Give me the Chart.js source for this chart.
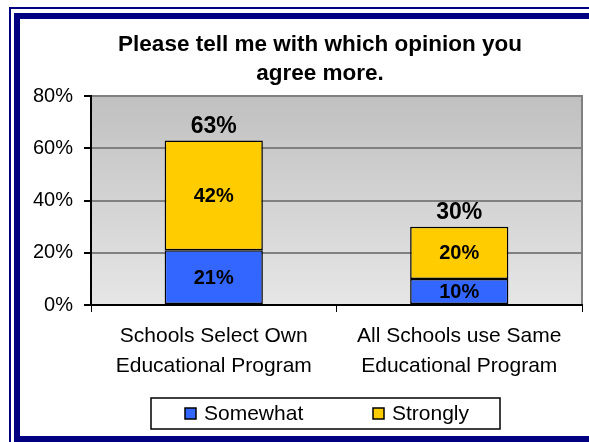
<!DOCTYPE html>
<html>
<head>
<meta charset="utf-8">
<script src="https://cdn.jsdelivr.net/npm/chart.js@4/dist/chart.umd.min.js"></script>
<style>
  body { margin: 0; background: #fff; }
  #wrap { width: 589px; height: 442px; position: relative; }
</style>
</head>
<body>
<div id="wrap"><canvas id="c"></canvas></div>
<script>
// values
const categories = [['Schools Select Own', 'Educational Program'], ['All Schools use Same', 'Educational Program']];
const somewhat = [21, 10];
const strongly = [42, 20];
const totals = [63, 30];
const titleLines = ['Please tell me with which opinion you', 'agree more.'];
const seriesNames = ['Somewhat', 'Strongly'];
const seriesColors = ['#3366FF', '#FFCC00'];

const FONT = "'Liberation Sans', Arial, sans-serif";

// gradient plot background + gray plot border
const plotBg = {
    id: 'plotBg',
    beforeDraw(chart) {
        const { ctx, chartArea: a } = chart;
        const g = ctx.createLinearGradient(0, a.top, 0, a.bottom);
        g.addColorStop(0, '#C0C0C0');
        g.addColorStop(1, '#E6E6E6');
        ctx.save();
        ctx.fillStyle = g;
        ctx.fillRect(a.left, a.top, a.right - a.left, a.bottom - a.top);
        ctx.strokeStyle = '#808080';
        ctx.lineWidth = 2;
        ctx.strokeRect(a.left, a.top, a.right - a.left, a.bottom - a.top);
        ctx.restore();
    }
};

// frame, title, value labels, legend box
const extras = {
    id: 'extras',
    afterDatasetsDraw(chart) {
        const ctx = chart.ctx;
        ctx.save();
        ctx.fillStyle = '#000';
        ctx.textAlign = 'center';
        ctx.textBaseline = 'middle';
        ctx.font = 'bold 20px ' + FONT;
        chart.data.datasets.forEach((ds, di) => {
            chart.getDatasetMeta(di).data.forEach((bar, i) => {
                ctx.fillText(ds.data[i] + '%', bar.x, (bar.y + bar.base) / 2 + 1);
            });
        });
        const top = chart.getDatasetMeta(chart.data.datasets.length - 1).data;
        ctx.font = 'bold 23px ' + FONT;
        top.forEach((bar, i) => ctx.fillText(totals[i] + '%', bar.x, bar.y - 14));
        ctx.restore();
    },
    afterDraw(chart) {
        const ctx = chart.ctx;
        ctx.save();
        // double navy frame
        ctx.strokeStyle = '#000080';
        ctx.lineWidth = 2;
        ctx.strokeRect(10, 8, 700, 600);
        ctx.lineWidth = 6;
        ctx.strokeRect(17, 16, 700, 423);
        // title
        ctx.fillStyle = '#000';
        ctx.textAlign = 'center';
        ctx.textBaseline = 'middle';
        ctx.font = 'bold 22.5px ' + FONT;
        titleLines.forEach((t, i) => ctx.fillText(t, 320, 45 + i * 29));
        // legend
        ctx.fillStyle = '#fff';
        ctx.fillRect(151, 398, 349, 31);
        ctx.strokeStyle = '#000';
        ctx.lineWidth = 1.5;
        ctx.strokeRect(151, 398, 349, 31);
        const xs = [185, 373];
        ctx.textAlign = 'left';
        ctx.font = '21px ' + FONT;
        seriesNames.forEach((n, i) => {
            ctx.fillStyle = seriesColors[i];
            ctx.fillRect(xs[i], 408, 11, 11);
            ctx.lineWidth = 1.5;
            ctx.strokeRect(xs[i], 408, 11, 11);
            ctx.fillStyle = '#000';
            ctx.fillText(n, xs[i] + 19, 414);
        });
        ctx.restore();
    }
};

new Chart(document.getElementById('c'), {
    type: 'bar',
    data: {
        labels: categories,
        datasets: [
            { label: seriesNames[0], data: somewhat, backgroundColor: seriesColors[0] },
            { label: seriesNames[1], data: strongly, backgroundColor: seriesColors[1] },
        ].map(d => Object.assign(d, { borderColor: '#000', borderWidth: 1.5, borderSkipped: false, barPercentage: 0.4, categoryPercentage: 1 }))
    },
    options: {
        responsive: true,
        maintainAspectRatio: false,
        animation: false,
        layout: { padding: { left: 0, right: 7, top: 96, bottom: 0 } },
        plugins: { legend: { display: false }, title: { display: false }, tooltip: { enabled: false } },
        scales: {
            x: {
                stacked: true,
                afterFit: s => { s.height = 137; },
                grid: { display: true, drawOnChartArea: false, tickLength: 7, tickColor: '#000', offset: true },
                border: { color: '#000', width: 2 },
                ticks: { color: '#000', padding: 9, font: { family: FONT, size: 21, lineHeight: 1.43 } }
            },
            y: {
                stacked: true,
                min: 0, max: 80,
                afterFit: s => { s.width = 91; },
                grid: { color: '#808080', lineWidth: 2, tickLength: 7, tickColor: '#000' },
                border: { color: '#000', width: 2 },
                ticks: { stepSize: 20, color: '#000', padding: 11, font: { family: FONT, size: 20 }, callback: v => v + '%' }
            }
        }
    },
    plugins: [plotBg, extras]
});
</script>
</body>
</html>
